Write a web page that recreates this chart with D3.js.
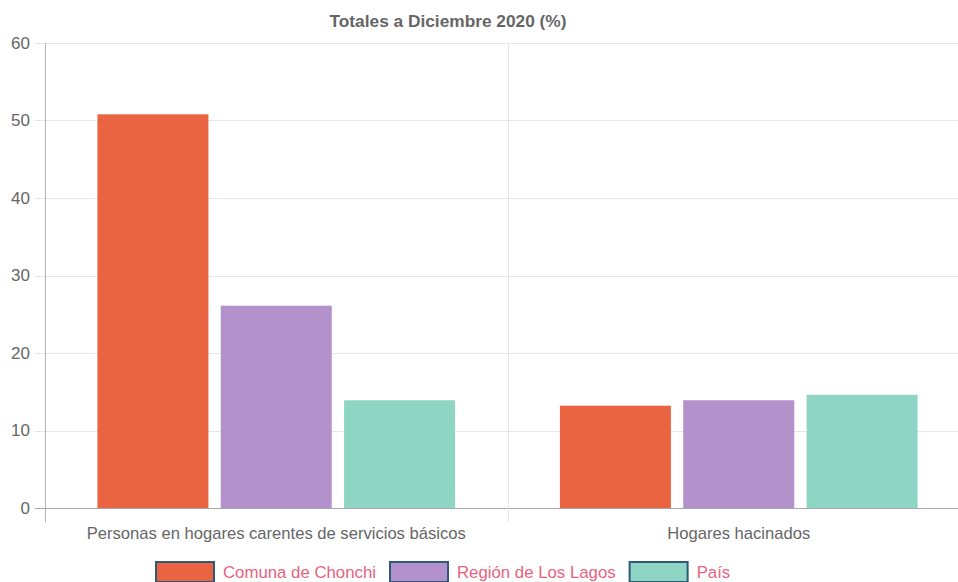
<!DOCTYPE html>
<html>
<head>
<meta charset="utf-8">
<script src="https://cdn.jsdelivr.net/npm/d3@7"></script>
<style>
  html, body { margin: 0; padding: 0; background: #fff; }
  svg { display: block; font-family: "Helvetica Neue", "Liberation Sans", Arial, sans-serif; }
</style>
</head>
<body>
<svg id="chart" width="958" height="582"></svg>
<script>
// data
var categories = ["Personas en hogares carentes de servicios básicos", "Hogares hacinados"];
var seriesNames = ["Comuna de Chonchi", "Región de Los Lagos", "País"];
var seriesColors = ["#eb6441", "#b391cb", "#8fd5c3"];
var chonchiValues = [50.8, 13.2];
var lagosValues = [26.1, 13.9];
var paisValues = [13.9, 14.6];
var yTicks = [0, 10, 20, 30, 40, 50, 60];
var chartTitle = "Totales a Diciembre 2020 (%)";

;(function() {
	"use strict";

	var seriesValues = [chonchiValues, lagosValues, paisValues];

	var svg = d3.select("#chart"),
		left = 45, right = 970, top = 43, bottom = 508;

	var x0 = d3.scaleBand().domain(categories).range([left, right]).padding(0);
	var cw = x0.bandwidth();
	var x1 = d3.scaleBand().domain(seriesNames)
		.range([cw * 0.1, cw * 0.9])
		.paddingInner(0.1).paddingOuter(0.05);
	var y = d3.scaleLinear().domain([0, 60]).range([bottom, top]);

	// horizontal grid + tick marks
	var grid = svg.append("g");
	grid.selectAll("line.h").data(yTicks).enter()
		.append("line")
		.attr("class", "h")
		.attr("x1", left - 10).attr("x2", right)
		.attr("y1", function(d) { return Math.round(y(d)) + 0.5; })
		.attr("y2", function(d) { return Math.round(y(d)) + 0.5; })
		.attr("stroke", function(d) { return d === 0 ? "#a8a8a8" : "#e6e6e6"; })
		.attr("stroke-width", 1);

	// vertical grid lines at category boundaries
	var vx = categories.map(function(c) { return x0(c); }).concat([right]);
	grid.selectAll("line.v").data(vx).enter()
		.append("line")
		.attr("class", "v")
		.attr("x1", function(d) { return Math.round(d) + 0.5; })
		.attr("x2", function(d) { return Math.round(d) + 0.5; })
		.attr("y1", top).attr("y2", bottom + 14)
		.attr("stroke", function(d, i) { return i === 0 ? "#b5b5b5" : "#e6e6e6"; })
		.attr("stroke-width", 1);

	// y tick labels
	svg.append("g").selectAll("text").data(yTicks).enter()
		.append("text")
		.attr("x", left - 15)
		.attr("y", function(d) { return y(d); })
		.attr("dy", "0.35em")
		.attr("text-anchor", "end")
		.attr("fill", "#666")
		.style("font-size", "17px")
		.text(function(d) { return d; });

	// bars
	var groups = svg.append("g").selectAll("g").data(categories).enter()
		.append("g")
		.attr("transform", function(c) { return "translate(" + x0(c) + ",0)"; });

	groups.selectAll("rect")
		.data(function(c, ci) {
			return seriesNames.map(function(s, si) { return { s: s, si: si, v: seriesValues[si][ci] }; });
		})
		.enter().append("rect")
		.attr("x", function(d) { return x1(d.s); })
		.attr("width", x1.bandwidth())
		.attr("y", function(d) { return y(d.v); })
		.attr("height", function(d) { return bottom - y(d.v); })
		.attr("fill", function(d) { return seriesColors[d.si]; });

	// x labels
	svg.append("g").selectAll("text").data(categories).enter()
		.append("text")
		.attr("x", function(c) { return x0(c) + cw / 2; })
		.attr("y", 539)
		.attr("text-anchor", "middle")
		.attr("fill", "#666")
		.style("font-size", "16.6px")
		.text(function(c) { return c; });

	// title
	svg.append("text")
		.attr("x", 448).attr("y", 27)
		.attr("text-anchor", "middle")
		.attr("fill", "#666")
		.style("font-size", "17.3px")
		.style("font-weight", "bold")
		.text(chartTitle);

	// legend
	var legend = svg.append("g").attr("transform", "translate(155,561)");
	var lx = 0;
	seriesNames.forEach(function(s, i) {
		var item = legend.append("g").attr("transform", "translate(" + lx + ",0)");
		item.append("rect")
			.attr("x", 1).attr("y", 1)
			.attr("width", 58).attr("height", 20)
			.attr("fill", seriesColors[i])
			.attr("stroke", "#2d5a7b")
			.attr("stroke-width", 2);
		var t = item.append("text")
			.attr("x", 68).attr("y", 17)
			.attr("fill", "#e8637f")
			.style("font-size", "16.8px")
			.text(s);
		lx += 68 + t.node().getComputedTextLength() + 13;
	});
})();
</script>
</body>
</html>
